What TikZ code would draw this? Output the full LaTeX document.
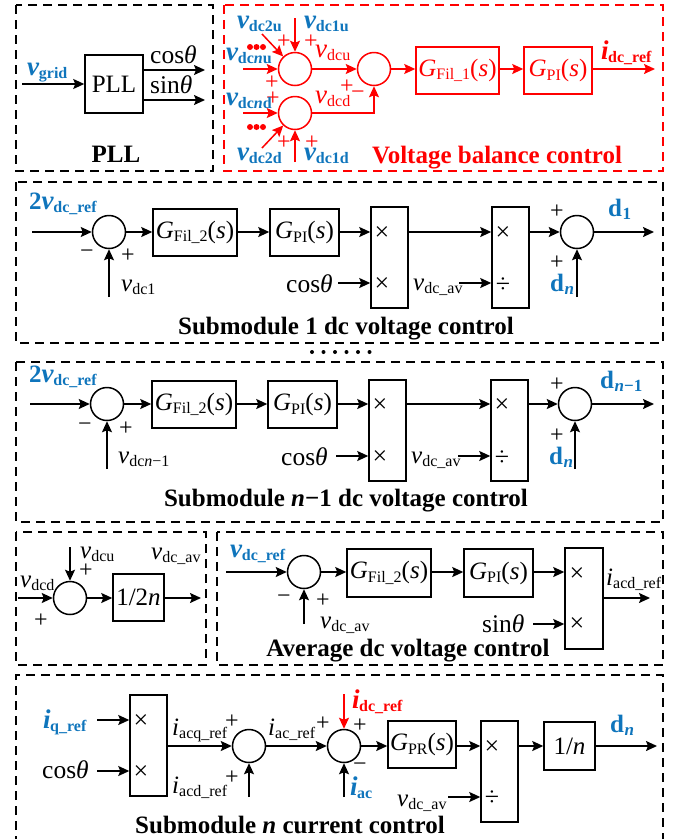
\documentclass[tikz,border=0pt]{standalone}
\usepackage{fontspec}
\setmainfont{Liberation Serif}
\usetikzlibrary{arrows.meta}
\definecolor{bl}{HTML}{0F75BC}
\definecolor{rd}{HTML}{FF0000}
\newcommand\Sz[1]{\fontsize{#1}{#1}\selectfont}
\newcommand\Sb[1]{\raisebox{-3.5pt}{\Sz{16}#1}}
\newcommand\VV[2]{{\Sz{25}\textit{#1}}\Sb{#2}}
\newcommand\RV[2]{{\Sz{27}\textit{#1}}\Sb{#2}}
\newcommand\BV[2]{{\Sz{27}\textbf{\textit{#1}}}\kern-0.5pt\Sb{\textbf{#2}}}
\newcommand\GG[1]{\Sz{25}\textit{G}\Sb{#1}(\textit{s})}
\newcommand\Th[1]{\Sz{25.5}#1\textit{θ}}
\newcommand\DD[1]{\Sz{25}\textbf{d}\kern0.5pt\Sb{\Sz{17}\textbf{#1}}}
\tikzset{
  x=1pt,y=-1pt,
  arr/.style={line width=1.5pt,-{Stealth[length=11pt,width=10pt,inset=2pt]}},
  dbox/.style={line width=1.5pt,dash pattern=on 9pt off 6pt},
  blockn/.style={draw,line width=1.5pt,inner sep=0pt,font=\Sz{25}},
  sumn/.style={draw,circle,line width=1.5pt,minimum size=33pt,inner sep=0pt},
  lab/.style={anchor=base west,inner sep=0pt,font=\Sz{24}},
  sgn/.style={inner sep=0pt,font=\Sz{24}},
  opn/.style={inner sep=0pt,font=\Sz{26}},
  ttl/.style={anchor=base,inner sep=0pt,font=\Sz{25}\bfseries},
  dotn/.style={circle,fill,inner sep=0pt,minimum size=6pt},
  smalldot/.style={circle,fill=black,inner sep=0pt,minimum size=4pt},
}
% name, x1, y1, x2, y2, text
\newcommand\Blk[6]{\node[blockn,minimum width={#4-#2},minimum height={#5-#3}] (#1) at ({(#2+#4)/2},{(#3+#5)/2}) {#6};}
\begin{document}
\begin{tikzpicture}
\useasboundingbox (0,0) rectangle (681,839);
% dashed frames
\draw[dbox] (16,5) rectangle (213,171);
\draw[dbox,rd] (224,5) rectangle (663,171);
\draw[dbox] (16,182) rectangle (663,343);
\draw[dbox] (16,362) rectangle (663,522);
\draw[dbox] (16,532) rectangle (206,665);
\draw[dbox] (217,532) rectangle (663,665);
\draw[dbox] (16,845) -- (16,675) -- (663,675) -- (663,845);
% ---------- PLL
\Blk{pll}{85}{55}{143}{113}{PLL}
\coordinate (gi) at (22,84);
\coordinate (co) at (205,70);
\coordinate (so) at (205,100);
\draw[arr] (gi) -- (pll);
\draw[arr] (pll.east |- co) -- (co);
\draw[arr] (pll.east |- so) -- (so);
\node[lab,text=bl] (t1) at (27,75) {\BV{v}{grid}};
\node[lab] (t2) at (150,63) {\Th{cos}};
\node[lab] (t3) at (150,93) {\Th{sin}};
\node[ttl] (t4) at (116,162) {PLL};
% ---------- Voltage balance
\begin{scope}[rd,every node/.append style={text=rd}]
\node[sumn,draw=rd] (c1) at (295,69) {};
\node[sumn,draw=rd] (c2) at (295,113) {};
\node[sumn,draw=rd] (c3) at (374,69) {};
\Blk{gf}{416}{47}{499}{94}{\GG{Fil\_1}}
\Blk{gp}{524}{47}{592}{94}{\GG{PI}}
\coordinate (a1) at (295,18);
\coordinate (a2) at (262,34);
\coordinate (a3) at (243,69);
\coordinate (a4) at (243,113);
\coordinate (a5) at (262,148);
\coordinate (a6) at (295,162);
\coordinate (a7) at (655,69);
\coordinate (k) at (374,113);
\draw[arr] (a1) -- (c1);
\draw[arr] (a2) -- (c1);
\draw[arr] (a3) -- (c1);
\draw[arr] (a4) -- (c2);
\draw[arr] (a5) -- (c2);
\draw[arr] (a6) -- (c2);
\draw[arr] (c1) -- (c3);
\draw[arr] (c2) -- (k) -- (c3);
\draw[arr] (c3) -- (gf.west |- c3);
\draw[arr] (gf.east |- c3) -- (gp.west |- c3);
\draw[arr] (gp.east |- c3) -- (a7);
\foreach \n/\x/\y in {d1/250/47,d2/256.5/47,d3/263/47,d4/250/127,d5/256.5/127,d6/263/127}
  \node[dotn] (\n) at (\x,\y) {};
\foreach \n/\x/\y in {p1/284/42,p2/311/42,p3/272/83,p4/273/99,p5/284/143,p6/312/143,p7/347/87}
  \node[sgn] (\n) at (\x,\y) {+};
\node[sgn] (p8) at (358,95) {−};
\node[lab] (r1) at (315,57) {\RV{v}{dcu}};
\node[lab] (r2) at (315,103) {\RV{v}{dcd}};
\node[lab,text=bl] (b1) at (237,28) {\BV{v}{dc2u}};
\node[lab,text=bl] (b2) at (304,28) {\BV{v}{dc1u}};
\node[lab,text=bl] (b3) at (226,60) {\BV{v}{dc\textit{n}u}};
\node[lab,text=bl] (b4) at (226,105) {\BV{v}{dc\textit{n}d}};
\node[lab,text=bl] (b5) at (237,160) {\BV{v}{dc2d}};
\node[lab,text=bl] (b6) at (304,160) {\BV{v}{dc1d}};
\node[lab] (r3) at (601,59) {\BV{i}{dc\_ref}};
\node[ttl] (r4) at (497,163) {Voltage balance control};
\end{scope}
% ---------- Submodule 1
\node[sumn] (s1) at (109,232) {};
\Blk{f1}{153}{209}{237}{256}{\GG{Fil\_2}}
\Blk{g1}{270}{209}{339}{256}{\GG{PI}}
\Blk{m1}{371}{207}{408}{308}{}
\Blk{q1}{492}{207}{529}{308}{}
\node[sumn] (e1) at (577,232) {};
\coordinate (i1) at (32,232);
\coordinate (i2) at (109,297);
\coordinate (i3) at (338,283);
\coordinate (i4) at (459,283);
\coordinate (i5) at (654,232);
\coordinate (i6) at (577,297);
\draw[arr] (i1) -- (s1);
\draw[arr] (i2) -- (s1);
\draw[arr] (s1) -- (f1.west |- s1);
\draw[arr] (f1.east |- s1) -- (g1.west |- s1);
\draw[arr] (g1.east |- s1) -- (m1.west |- s1);
\draw[arr] (i3) -- (m1.west |- i3);
\draw[arr] (m1.east |- s1) -- (q1.west |- s1);
\draw[arr] (i4) -- (q1.west |- i4);
\draw[arr] (q1.east |- e1) -- (e1);
\draw[arr] (e1) -- (i5);
\draw[arr] (i6) -- (e1);
\node[lab,text=bl] (l1) at (29,209) {{\Sz{25}\textbf{2}}\BV{v}{dc\_ref}};
\node[sgn] (l2) at (87,254) {−};
\node[sgn] (l3) at (128,256) {+};
\node[lab] (l4) at (121,291) {\VV{v}{dc1}};
\node[lab] (l5) at (286,292) {\Th{cos}};
\node[lab] (l6) at (413,290) {\VV{v}{dc\_av}};
\node[opn] (l7) at (382,234) {×};
\node[opn] (l8) at (382,285) {×};
\node[opn] (l9) at (503,234) {×};
\node[opn] (l10) at (503,285) {÷};
\node[sgn] (l11) at (557,212) {+};
\node[sgn] (l12) at (557,263) {+};
\node[lab,text=bl] (l13) at (608,216) {\DD{1}};
\node[lab,text=bl] (l14) at (550,291) {\DD{\textit{n}}};
\node[ttl] (l15) at (346,334) {Submodule 1 dc voltage control};
% ---------- dots
\foreach \n/\x in {m1d/312,m2d/323.5,m3d/335,m4d/346.5,m5d/358,m6d/369.5}
  \node[smalldot] (\n) at (\x,352) {};
% ---------- Submodule n-1
\node[sumn] (s2) at (107,404) {};
\Blk{f2}{152}{381}{236}{428}{\GG{Fil\_2}}
\Blk{g2}{268}{381}{337}{428}{\GG{PI}}
\Blk{mb}{369}{380}{406}{481}{}
\Blk{qb}{491}{380}{528}{481}{}
\node[sumn] (e2) at (575,404) {};
\coordinate (j1) at (30,404);
\coordinate (j2) at (107,469);
\coordinate (j3) at (336,456);
\coordinate (j4) at (458,456);
\coordinate (j5) at (654,404);
\coordinate (j6) at (575,469);
\draw[arr] (j1) -- (s2);
\draw[arr] (j2) -- (s2);
\draw[arr] (s2) -- (f2.west |- s2);
\draw[arr] (f2.east |- s2) -- (g2.west |- s2);
\draw[arr] (g2.east |- s2) -- (mb.west |- s2);
\draw[arr] (j3) -- (mb.west |- j3);
\draw[arr] (mb.east |- s2) -- (qb.west |- s2);
\draw[arr] (j4) -- (qb.west |- j4);
\draw[arr] (qb.east |- e2) -- (e2);
\draw[arr] (e2) -- (j5);
\draw[arr] (j6) -- (e2);
\node[lab,text=bl] (n1) at (29,382) {{\Sz{25}\textbf{2}}\BV{v}{dc\_ref}};
\node[sgn] (n2) at (85,427) {−};
\node[sgn] (n3) at (126,429) {+};
\node[lab] (n4) at (118,463) {\VV{v}{dc\textit{n}−1}};
\node[lab] (n5) at (281,465) {\Th{cos}};
\node[lab] (n6) at (411,463) {\VV{v}{dc\_av}};
\node[opn] (n7) at (380,406) {×};
\node[opn] (n8) at (380,458) {×};
\node[opn] (n9) at (502,406) {×};
\node[opn] (n10) at (502,458) {÷};
\node[sgn] (n11) at (557,385) {+};
\node[sgn] (n12) at (557,436) {+};
\node[lab,text=bl] (n13) at (600,388) {\DD{\textit{n}−1}};
\node[lab,text=bl] (n14) at (549,464) {\DD{\textit{n}}};
\node[ttl] (n15) at (346,506) {Submodule \textit{n}−1 dc voltage control};
% ---------- 1/2n
\node[sumn] (s3) at (70,598) {};
\Blk{h}{113}{574}{164}{621}{1/2\textit{n}}
\coordinate (u1) at (18,598);
\coordinate (u2) at (70,547);
\coordinate (u3) at (201,598);
\draw[arr] (u1) -- (s3);
\draw[arr] (u2) -- (s3);
\draw[arr] (s3) -- (h.west |- s3);
\draw[arr] (h.east |- s3) -- (u3);
\node[lab] (o1) at (80,558) {\VV{v}{dcu}};
\node[lab] (o2) at (20,587) {\VV{v}{dcd}};
\node[sgn] (o3) at (86,571) {+};
\node[sgn] (o4) at (41,621) {+};
\node[lab] (o5) at (151,559) {\VV{v}{dc\_av}};
% ---------- Average
\node[sumn] (s4) at (304,572) {};
\Blk{f3}{347}{549}{431}{597}{\GG{Fil\_2}}
\Blk{g3}{464}{549}{533}{597}{\GG{PI}}
\Blk{m3x}{565}{548}{603}{649}{}
\coordinate (w1) at (226,572);
\coordinate (w2) at (304,624);
\coordinate (w3) at (533,624);
\coordinate (w4) at (650,598);
\draw[arr] (w1) -- (s4);
\draw[arr] (w2) -- (s4);
\draw[arr] (s4) -- (f3.west |- s4);
\draw[arr] (f3.east |- s4) -- (g3.west |- s4);
\draw[arr] (g3.east |- s4) -- (m3x.west |- s4);
\draw[arr] (w3) -- (m3x.west |- w3);
\draw[arr] (m3x.east |- w4) -- (w4);
\node[lab,text=bl] (x1) at (230,557) {\BV{v}{dc\_ref}};
\node[sgn] (x2) at (284,599) {−};
\node[sgn] (x3) at (323,601) {+};
\node[lab] (x4) at (320,628) {\VV{v}{dc\_av}};
\node[lab] (x5) at (482,632) {\Th{sin}};
\node[lab] (x6) at (606,585) {\VV{i}{acd\_ref}};
\node[opn] (x7) at (577,575) {×};
\node[opn] (x8) at (577,625) {×};
\node[ttl] (x9) at (408,656) {Average dc voltage control};
% ---------- Submodule n
\Blk{m6}{130}{695}{167}{796}{}
\node[sumn] (c61) at (249,746) {};
\node[sumn] (c62) at (344,746) {};
\Blk{gr}{388}{721}{456}{768}{\GG{PR}}
\Blk{q6}{481}{721}{518}{822}{}
\Blk{hn}{544}{722}{595}{770}{1/\textit{n}}
\coordinate (v1) at (97,720);
\coordinate (v2) at (97,771);
\coordinate (v3) at (344,694);
\coordinate (v4) at (344,797);
\coordinate (v5) at (249,797);
\coordinate (v6) at (448,797);
\coordinate (v7) at (657,746);
\draw[arr] (v1) -- (m6.west |- v1);
\draw[arr] (v2) -- (m6.west |- v2);
\draw[arr] (m6.east |- c61) -- (c61);
\draw[arr] (v5) -- (c61);
\draw[arr] (c61) -- (c62);
\draw[arr,rd] (v3) -- (c62);
\draw[arr] (v4) -- (c62);
\draw[arr] (c62) -- (gr.west |- c62);
\draw[arr] (gr.east |- c62) -- (q6.west |- c62);
\draw[arr] (v6) -- (q6.west |- v6);
\draw[arr] (q6.east |- c62) -- (hn.west |- c62);
\draw[arr] (hn.east |- c62) -- (v7);
\node[lab,text=bl] (y1) at (43,728) {\BV{i}{q\_ref}};
\node[lab] (y2) at (42,778) {\Th{cos}};
\node[lab] (y3) at (172,735) {\VV{i}{acq\_ref}};
\node[lab] (y4) at (172,793) {\VV{i}{acd\_ref}};
\node[lab] (y5) at (268,735) {\VV{i}{ac\_ref}};
\node[lab,text=rd] (y6) at (352,708) {\BV{i}{dc\_ref}};
\node[lab,text=bl] (y7) at (350,795) {\BV{i}{ac}};
\node[lab] (y8) at (397,806) {\VV{v}{dc\_av}};
\node[sgn] (y9) at (232,722) {+};
\node[sgn] (y10) at (232,778) {+};
\node[sgn] (y11) at (323,724) {+};
\node[sgn] (y12) at (360,726) {+};
\node[sgn] (y13) at (360,767) {−};
\node[opn] (y14) at (141,722) {×};
\node[opn] (y15) at (141,773) {×};
\node[opn] (y16) at (492,748) {×};
\node[opn] (y17) at (492,798) {÷};
\node[lab,text=bl] (y18) at (610,732) {\DD{\textit{n}}};
\node[ttl] (y19) at (290,833) {Submodule \textit{n} current control};
\end{tikzpicture}
\end{document}
